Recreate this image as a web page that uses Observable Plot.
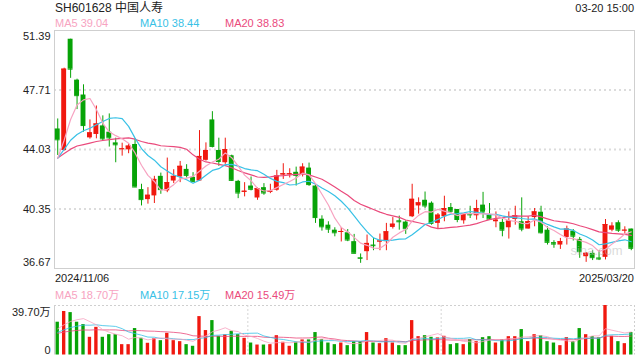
<!DOCTYPE html>
<html>
<head>
<meta charset="utf-8">
<script src="https://cdn.jsdelivr.net/npm/d3@7"></script>
<script src="https://cdn.jsdelivr.net/npm/@observablehq/plot@0.6"></script>
<style>
  body { margin: 0; background: #fff; }
  #wrap { position: relative; width: 640px; height: 360px; font-family: Arial, "Liberation Sans", "Noto Sans CJK SC", sans-serif; color: #222; overflow: hidden; }
  .t { position: absolute; white-space: nowrap; line-height: 1; }
</style>
</head>
<body>
<div id="wrap">
  <div id="main" style="position:absolute;left:0;top:0"></div>
  <div id="vol" style="position:absolute;left:0;top:300px"></div>
</div>
<script>
// ---- data ----
const title = "SH601628 中国人寿";
const timeLabel = "03-20 15:00";
const maLabels = ["MA5 39.04", "MA10 38.44", "MA20 38.83"];
const volMaLabels = ["MA5 18.70万", "MA10 17.15万", "MA20 15.49万"];
const dateLabels = ["2024/11/06", "2025/03/20"];
const yTicks = [51.39, 47.71, 44.03, 40.35, 36.67];
const volTickLabels = ["39.70万", "0"];
const volMax = 39.70;

const opens = [45.30,43.97,50.85,48.32,47.40,44.75,44.96,45.49,45.10,44.44,
  44.03,44.01,44.34,41.55,40.93,41.16,42.37,41.47,42.08,42.33,
  42.80,42.31,42.08,43.36,45.86,43.97,43.21,43.64,42.06,41.38,
  41.77,41.03,41.67,41.38,41.51,42.45,42.47,42.62,42.47,42.88,
  41.77,39.72,39.35,39.04,38.90,38.88,38.33,37.34,37.71,38.12,
  38.31,38.33,39.21,39.62,39.54,39.87,40.54,40.89,40.71,39.46,
  39.87,40.44,40.32,39.62,40.05,39.93,40.59,39.95,39.56,39.52,
  39.19,39.70,39.56,39.11,39.82,40.15,39.04,38.27,38.12,38.59,
  38.98,38.47,37.40,37.61,37.32,37.36,39.04,39.50,39.00,39.11];
const closes = [44.63,49.00,49.00,47.36,45.51,45.06,45.61,44.69,44.75,44.32,
  44.07,44.24,41.71,40.93,41.20,42.18,41.55,41.98,42.37,42.99,
  42.43,42.06,43.60,43.97,44.22,43.29,44.03,42.12,41.34,41.45,
  41.57,41.61,41.34,41.45,42.39,42.53,42.53,42.43,42.94,41.86,
  39.82,39.25,39.11,38.88,38.96,38.43,37.61,37.30,38.22,38.08,
  38.37,38.94,39.41,39.56,39.13,40.95,40.73,40.54,39.46,39.97,
  40.38,40.21,39.70,40.03,39.99,40.38,40.17,39.72,39.66,39.04,
  39.60,39.93,39.11,39.56,40.17,38.88,38.29,38.18,38.33,39.11,
  38.67,37.71,37.61,37.34,37.26,39.39,39.29,39.04,39.04,37.92];
const highs = [45.92,49.06,50.85,48.38,48.03,45.86,46.72,46.11,46.23,44.73,
  44.42,44.38,44.69,41.88,41.67,42.37,42.57,43.50,42.78,43.29,
  43.09,42.60,45.20,44.44,46.37,44.73,44.73,43.68,42.12,41.98,
  42.33,41.65,41.92,41.88,42.74,43.15,42.84,42.94,43.15,43.19,
  41.88,39.93,39.56,39.19,39.21,39.08,38.78,37.57,38.74,38.53,
  38.80,39.46,39.82,39.91,39.62,41.88,41.04,41.40,40.79,40.07,
  41.14,40.69,40.32,40.03,40.52,40.89,41.38,40.69,40.17,39.72,
  40.17,40.52,41.04,39.87,40.38,40.52,39.25,38.39,38.53,39.29,
  39.08,38.59,37.65,37.77,37.77,39.70,39.50,39.62,39.25,39.11];
const lows = [43.66,43.93,48.43,46.50,45.10,44.67,44.69,44.59,44.18,43.21,
  43.62,43.77,41.67,40.54,40.65,40.69,41.26,41.36,41.92,41.98,
  42.27,41.98,42.06,43.31,44.13,42.99,43.11,42.06,40.99,41.10,
  41.47,40.89,41.20,41.30,41.45,42.18,42.27,41.77,42.33,41.75,
  39.46,38.98,38.84,38.63,38.31,38.33,37.57,36.99,37.16,37.77,
  37.77,37.77,39.11,39.04,38.78,39.82,40.03,40.38,39.35,39.11,
  39.56,40.07,39.50,39.41,39.76,39.66,39.76,39.66,39.19,38.63,
  38.49,39.35,38.94,39.11,39.25,38.80,38.12,37.92,37.85,38.12,
  38.37,37.30,37.05,37.16,37.16,37.20,38.94,38.90,38.80,37.77];
// volume in 万手
const volumes = [26.3,34.9,34.0,26.3,24.4,14.2,22.2,14.2,16.3,16.3,
  8.3,8.3,21.2,13.4,9.4,13.1,11.5,17.4,11.5,10.7,
  8.3,7.0,30.8,19.6,27.6,15.0,16.1,19.0,16.3,13.4,
  9.6,8.0,8.0,8.3,15.5,10.2,7.0,10.2,12.1,12.1,
  18.0,12.3,9.6,8.3,9.6,7.5,10.7,10.7,18.0,9.6,
  9.1,13.1,9.6,7.5,7.5,27.6,14.7,15.5,14.2,13.7,
  15.0,8.3,9.1,8.3,12.3,10.7,13.9,14.7,9.6,12.3,
  14.7,14.7,20.4,10.7,16.3,15.5,10.7,9.6,7.5,13.9,
  10.7,21.2,16.3,14.7,13.7,39.7,15.0,10.7,9.1,18.0];
// closes / volumes of the 19 sessions before the window (estimated from where the MA lines start)
const priorCloses = [43.3,43.7,43.5,43.8,43.2,43.6,43.4,43.7,43.3,43.5,
  43.6,43.4,43.8,43.2,43.5,43.5,42.6,42.9,43.9];
const priorVolumes = [15.2,18.1,16.0,17.5,14.8,16.9,17.8,15.5,16.3,17.9,
  14.6,16.2,15.1,16.0,15.1,18.5,21.0,19.2,20.0];
const volGridX = [29.5, 59.5];
const gridY = [47.71, 44.03, 40.35];

// ---- styles ----
const RED = "#f0180f", GREEN = "#07a307";
const C5 = "#f7a3c1", C10 = "#38c1e6", C20 = "#ea4a7c";

const P = priorCloses.length;
const allC = priorCloses.concat(closes);
const allV = priorVolumes.concat(volumes);
const ma = (arr, n, i) => d3.mean(arr.slice(i + P - n + 1, i + P + 1));
const rows = closes.map((c, i) => ({
  i, o: opens[i], c, h: highs[i], l: lows[i], v: volumes[i],
  col: c >= opens[i] ? RED : GREEN,
  ma5: ma(allC, 5, i), ma10: ma(allC, 10, i), ma20: ma(allC, 20, i),
  vma5: ma(allV, 5, i), vma10: ma(allV, 10, i), vma20: ma(allV, 20, i)
}));
const n = rows.length;
const xDomain = [-0.5, n - 0.5];
const BW = 0.38, VW = 0.26;

const main = Plot.plot({
  width: 640, height: 270,
  marginTop: 30, marginBottom: 2, marginLeft: 54, marginRight: 6,
  x: {type: "linear", domain: xDomain, axis: null},
  y: {domain: [yTicks[4], yTicks[0]], axis: null},
  color: {type: "identity"},
  style: {fontFamily: "Arial, 'Liberation Sans', sans-serif", fontSize: "11px", color: "#222", background: "transparent", overflow: "visible"},
  marks: [
    Plot.ruleY(gridY, {stroke: "#dcdcdc", strokeWidth: 2, strokeDasharray: "2,3"}),
    Plot.frame({stroke: "#cfcfcf"}),
    Plot.text(yTicks.slice(1, 4), {y: d => d, frameAnchor: "left", textAnchor: "end", dx: -4, fill: "#222"}),
    Plot.text(yTicks.slice(0, 1), {y: d => d, frameAnchor: "left", textAnchor: "end", dx: -4, dy: 6, fill: "#222"}),
    Plot.text(yTicks.slice(4), {y: d => d, frameAnchor: "left", textAnchor: "end", dx: -4, dy: -6, fill: "#222"}),
    Plot.ruleX(rows, {x: "i", y1: "l", y2: "h", stroke: "col", strokeWidth: 1}),
    Plot.rect(rows, {x1: d => d.i - BW, x2: d => d.i + BW, y1: d => Math.min(d.o, d.c), y2: d => Math.max(d.o, d.c), fill: "col"}),
    Plot.ruleY(rows, {y: "c", x1: d => d.i - BW, x2: d => d.i + BW, stroke: "col", strokeWidth: 1}),
    Plot.line(rows, {x: "i", y: "ma20", stroke: C20, strokeWidth: 1.2}),
    Plot.line(rows, {x: "i", y: "ma10", stroke: C10, strokeWidth: 1.2}),
    Plot.line(rows, {x: "i", y: "ma5", stroke: C5, strokeWidth: 1.2}),
    Plot.text(["sina.com"], {frameAnchor: "bottom-right", dx: -12, dy: -14, fill: "#bbb", fillOpacity: 0.55, fontSize: 13})
  ]
});
document.getElementById("main").appendChild(main);

const vol = Plot.plot({
  width: 640, height: 58,
  marginTop: 5, marginBottom: 3.5, marginLeft: 54, marginRight: 6,
  x: {type: "linear", domain: xDomain, axis: null},
  y: {domain: [0, volMax], axis: null},
  color: {type: "identity"},
  style: {fontFamily: "Arial, 'Liberation Sans', 'Noto Sans CJK SC', sans-serif", fontSize: "11px", color: "#222", background: "transparent", overflow: "visible"},
  marks: [
    Plot.ruleY([volMax], {stroke: "#cfcfcf", strokeDasharray: "2,2"}),
    Plot.ruleX([xDomain[1]], {stroke: "#cfcfcf", strokeDasharray: "2,2"}),
    Plot.ruleX(volGridX, {stroke: "#d5d5d5", strokeDasharray: "2,2"}),
    Plot.ruleX([xDomain[0]], {stroke: "#cfcfcf"}),
    Plot.text(volTickLabels.slice(0, 1), {y: volMax, frameAnchor: "left", textAnchor: "end", dx: -4, dy: 7, fill: "#222"}),
    Plot.text(volTickLabels.slice(1), {y: 0, frameAnchor: "left", textAnchor: "end", dx: -4, dy: -5, fill: "#222"}),
    Plot.rect(rows, {x1: d => d.i - VW, x2: d => d.i + VW, y1: 0, y2: "v", fill: "col"}),
    Plot.line(rows, {x: "i", y: "vma20", stroke: C20, strokeWidth: 1, strokeOpacity: 0.8}),
    Plot.line(rows, {x: "i", y: "vma10", stroke: C10, strokeWidth: 1, strokeOpacity: 0.8}),
    Plot.line(rows, {x: "i", y: "vma5", stroke: C5, strokeWidth: 1, strokeOpacity: 0.8})
  ]
});
document.getElementById("vol").appendChild(vol);

// ---- html texts ----
const wrap = document.getElementById("wrap");
function addText(txt, style) {
  const d = document.createElement("div");
  d.className = "t";
  d.textContent = txt;
  Object.assign(d.style, style);
  wrap.appendChild(d);
}
addText(title, {left: "55px", top: "2px", fontSize: "12px", color: "#222"});
addText(timeLabel, {right: "6px", top: "3px", fontSize: "11px", color: "#222"});
const maColors = [C5, C10, C20];
const maLefts = [55, 140, 225];
maLabels.forEach((t, k) => addText(t, {left: maLefts[k] + "px", top: "18px", fontSize: "11px", color: maColors[k]}));
addText(dateLabels[0], {left: "55px", top: "273px", fontSize: "11px", color: "#222"});
addText(dateLabels[1], {right: "6px", top: "273px", fontSize: "11px", color: "#222"});
volMaLabels.forEach((t, k) => addText(t, {left: maLefts[k] + "px", top: "290px", fontSize: "11px", color: maColors[k]}));
</script>
</body>
</html>
